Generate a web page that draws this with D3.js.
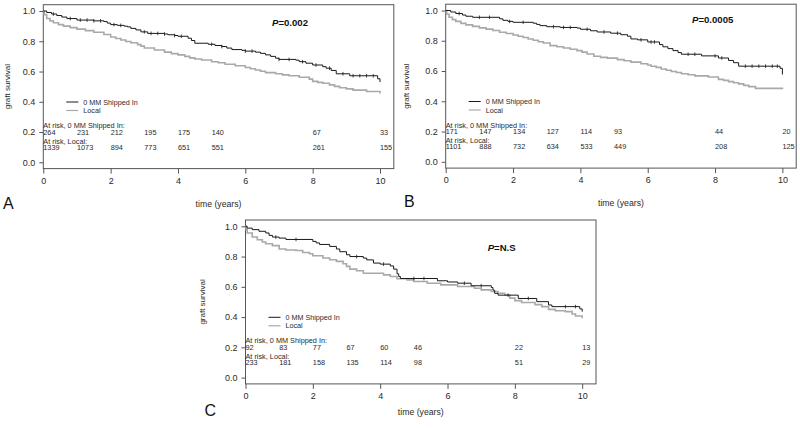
<!DOCTYPE html>
<html>
<head>
<meta charset="utf-8">
<script src="https://cdn.jsdelivr.net/npm/d3@7"></script>
<style>
  html, body { margin: 0; padding: 0; background: #fff; }
  svg { display: block; font-family: "Liberation Sans", Arial, Helvetica, sans-serif; }
</style>
</head>
<body>
<svg id="chart" width="800" height="428"></svg>
<script>
// ---------------- DATA ----------------
const xTicks = [0, 2, 4, 6, 8, 10];
const yTicks = [0, 0.2, 0.4, 0.6, 0.8, 1.0];
const riskTimes = [0, 1, 2, 3, 4, 5, 8, 10];
const seriesNames = ["0 MM Shipped In", "Local"];
const panelLetters = ["A", "B", "C"];
const pValues = ["=0.002", "=0.0005", "=N.S"];

// Kaplan-Meier steps [time, survival]
const aShipped = [[0,1],[0.1,0.99],[0.25,0.98],[0.4,0.97],[0.55,0.96],[0.7,0.95],[1.0,0.94],[1.5,0.935],[1.8,0.93],[1.9,0.92],[2.0,0.91],[2.2,0.905],[2.4,0.9],[2.5,0.895],[2.6,0.885],[2.75,0.875],[2.9,0.862],[3.1,0.852],[3.6,0.848],[3.7,0.843],[3.9,0.838],[4.0,0.833],[4.3,0.82],[4.4,0.805],[4.5,0.787],[4.9,0.78],[5.1,0.772],[5.3,0.765],[5.45,0.755],[5.6,0.745],[5.9,0.74],[6.0,0.735],[6.3,0.728],[6.45,0.72],[6.6,0.71],[6.75,0.7],[6.9,0.688],[7.0,0.68],[7.5,0.675],[7.6,0.665],[7.8,0.655],[8.0,0.643],[8.3,0.632],[8.4,0.622],[8.55,0.607],[8.7,0.585],[9.1,0.572],[9.93,0.552],[10,0.53]];
const aLocal = [[0,1],[0.03,0.975],[0.1,0.95],[0.2,0.935],[0.3,0.922],[0.45,0.91],[0.6,0.9],[0.8,0.89],[1.0,0.88],[1.25,0.87],[1.5,0.86],[1.8,0.845],[2.0,0.828],[2.15,0.818],[2.3,0.808],[2.45,0.798],[2.6,0.79],[2.8,0.778],[2.9,0.768],[3.0,0.755],[3.3,0.742],[3.6,0.728],[3.8,0.718],[4.0,0.71],[4.2,0.7],[4.35,0.69],[4.5,0.683],[4.7,0.676],[5.0,0.665],[5.2,0.658],[5.4,0.648],[5.7,0.638],[6.0,0.627],[6.15,0.618],[6.3,0.61],[6.45,0.602],[6.6,0.593],[6.9,0.585],[7.1,0.578],[7.3,0.572],[7.6,0.562],[7.9,0.55],[8.0,0.535],[8.15,0.528],[8.3,0.522],[8.5,0.512],[8.65,0.502],[8.8,0.493],[9.0,0.485],[9.2,0.477],[9.6,0.468],[10,0.455]];
const bShipped = [[0,1],[0.15,0.99],[0.3,0.98],[0.5,0.97],[0.6,0.962],[0.8,0.955],[1.6,0.945],[1.7,0.935],[1.85,0.928],[2.0,0.922],[2.6,0.916],[2.7,0.908],[2.8,0.9],[3.0,0.893],[3.4,0.888],[3.9,0.884],[4.0,0.876],[4.3,0.866],[4.5,0.858],[4.9,0.85],[5.2,0.84],[5.4,0.83],[5.5,0.812],[5.7,0.806],[6.0,0.792],[6.35,0.775],[6.45,0.76],[6.6,0.748],[6.75,0.735],[6.9,0.722],[7.0,0.711],[7.6,0.7],[8.1,0.686],[8.4,0.67],[8.55,0.655],[8.7,0.632],[9.93,0.618],[10,0.577]];
const bLocal = [[0,1],[0.03,0.975],[0.1,0.955],[0.2,0.94],[0.3,0.928],[0.45,0.915],[0.6,0.905],[0.8,0.895],[1.0,0.885],[1.2,0.877],[1.4,0.868],[1.6,0.856],[1.8,0.848],[2.0,0.838],[2.15,0.83],[2.3,0.822],[2.45,0.812],[2.6,0.803],[2.75,0.793],[2.9,0.785],[3.1,0.768],[3.3,0.76],[3.5,0.752],[3.7,0.744],[3.9,0.735],[4.05,0.725],[4.2,0.712],[4.4,0.698],[4.6,0.69],[4.8,0.685],[5.1,0.675],[5.3,0.668],[5.5,0.659],[5.8,0.648],[6.0,0.64],[6.1,0.632],[6.25,0.624],[6.4,0.613],[6.55,0.605],[6.7,0.597],[6.85,0.59],[7.0,0.582],[7.2,0.575],[7.4,0.568],[7.8,0.56],[8.1,0.545],[8.25,0.538],[8.4,0.53],[8.55,0.522],[8.7,0.515],[8.85,0.505],[9.0,0.497],[9.2,0.485],[10,0.48]];
const cShipped = [[0,1],[0.05,0.988],[0.2,0.978],[0.4,0.967],[0.6,0.956],[0.7,0.94],[0.8,0.929],[1.0,0.922],[1.2,0.913],[2.0,0.9],[2.1,0.89],[2.2,0.88],[2.5,0.867],[2.7,0.85],[2.8,0.832],[3.0,0.812],[3.1,0.8],[3.5,0.79],[3.6,0.778],[3.8,0.757],[4.0,0.75],[4.3,0.738],[4.4,0.717],[4.5,0.686],[4.55,0.668],[4.6,0.655],[5.7,0.64],[6.0,0.632],[6.3,0.624],[6.7,0.607],[7.3,0.595],[7.35,0.578],[7.4,0.557],[7.5,0.545],[8.1,0.523],[8.65,0.502],[9.0,0.48],[9.1,0.469],[9.93,0.454],[10,0.436]];
const cLocal = [[0,1],[0.02,0.978],[0.05,0.956],[0.2,0.929],[0.35,0.911],[0.5,0.896],[0.6,0.885],[0.8,0.872],[1.0,0.85],[1.2,0.843],[1.5,0.84],[1.7,0.827],[1.9,0.819],[2.0,0.805],[2.3,0.79],[2.5,0.779],[2.7,0.768],[2.9,0.752],[3.0,0.735],[3.1,0.717],[3.3,0.706],[3.5,0.69],[4.1,0.679],[4.3,0.668],[4.5,0.653],[4.8,0.646],[5.0,0.635],[5.4,0.624],[5.8,0.613],[6.3,0.602],[6.8,0.591],[7.0,0.58],[7.3,0.569],[7.5,0.558],[7.7,0.546],[7.85,0.525],[8.0,0.509],[8.2,0.496],[8.6,0.482],[8.8,0.469],[9.0,0.451],[9.2,0.442],[9.5,0.436],[9.7,0.42],[9.8,0.407],[10,0.392]];

// censoring times on the shipped-in curves
const aCensor = [0.3,0.8,1.1,1.3,1.5,1.7,2.1,2.3,3.0,3.2,3.4,3.6,3.9,4.1,5.0,5.3,6.0,6.2,7.0,7.3,7.7,8.1,8.5,8.9,9.2,9.4,9.6,9.8];
const bCensor = [0.4,1.0,1.3,1.9,2.3,3.2,3.5,3.7,4.2,4.7,5.1,5.8,6.1,6.2,7.2,7.4,8.0,8.2,8.9,9.1,9.3,9.5,9.7,9.85];
const cCensor = [0.9,1.5,3.3,4.1,5.0,5.3,6.5,7.0,7.8,8.4,9.5,9.8];

// numbers at risk
const aRiskShipped = [264, 231, 212, 195, 175, 140, 67, 33];
const aRiskLocal = [1339, 1073, 894, 773, 651, 551, 261, 155];
const bRiskShipped = [171, 147, 134, 127, 114, 93, 44, 20];
const bRiskLocal = [1101, 888, 732, 634, 533, 449, 208, 125];
const cRiskShipped = [92, 83, 77, 67, 60, 46, 22, 13];
const cRiskLocal = [233, 181, 158, 135, 114, 98, 51, 29];

// ---------------- LAYOUT ----------------
const layout = [
  { x0: 43.3, y1: 11, pX: 272, pY: 22, lx: 3, ly: 203.3, xlabY: 204, ylabX: 7.5 },
  { x0: 445.7, y1: 10.5, pX: 692, pY: 19, lx: 404, ly: 201.7, xlabY: 203, ylabX: 406.5 },
  { x0: 245.5, y1: 226.3, pX: 487.7, pY: 246.7, lx: 204.5, ly: 410, xlabY: 411.7, ylabX: 202 }
];
const panelData = [
  { shipped: aShipped, local: aLocal, censor: aCensor, rs: aRiskShipped, rl: aRiskLocal },
  { shipped: bShipped, local: bLocal, censor: bCensor, rs: bRiskShipped, rl: bRiskLocal },
  { shipped: cShipped, local: cLocal, censor: cCensor, rs: cRiskShipped, rl: cRiskLocal }
];

const svg = d3.select("#chart");
const TEXT = "#2a2a2a", FRAME = "#555";
const PW = 336.7, PH = 151.3;

function stepValue(steps, t) {
  let v = steps[0][1];
  for (const [ti, si] of steps) { if (ti <= t) v = si; else break; }
  return v;
}

layout.forEach((L, i) => {
  const D = panelData[i];
  const x = d3.scaleLinear().domain([0, 10]).range([L.x0, L.x0 + PW]);
  const y = d3.scaleLinear().domain([0, 1]).range([L.y1 + PH, L.y1]);
  const g = svg.append("g");

  const bx0 = x(0), bx1 = x(10) + 13.8, by0 = y(1) - 6.3, by1 = y(0) + 6.3;
  g.append("rect").attr("x", bx0).attr("y", by0).attr("width", bx1 - bx0).attr("height", by1 - by0)
    .attr("fill", "none").attr("stroke", FRAME).attr("stroke-width", 1);

  // x axis
  const xa = g.append("g").attr("transform", `translate(0,${by1})`)
    .call(d3.axisBottom(x).tickValues(xTicks).tickFormat(d3.format("d")).tickSize(5).tickPadding(4));
  xa.select(".domain").remove();
  xa.selectAll("line").attr("stroke", FRAME);
  xa.selectAll("text").attr("fill", TEXT).attr("font-size", 9).attr("font-family", null);

  // y axis
  const ya = g.append("g").attr("transform", `translate(${bx0},0)`)
    .call(d3.axisLeft(y).tickValues(yTicks).tickFormat(d3.format(".1f")).tickSize(4).tickPadding(4));
  ya.select(".domain").remove();
  ya.selectAll("line").attr("stroke", FRAME);
  ya.selectAll("text").attr("fill", TEXT).attr("font-size", 9).attr("font-family", null);

  // curves
  const line = d3.line().x(d => x(d[0])).y(d => y(d[1])).curve(d3.curveStepAfter);
  g.append("path").datum(D.local).attr("d", line).attr("fill", "none")
    .attr("stroke", "#a9a9a9").attr("stroke-width", 1.6);
  g.append("path").datum(D.shipped).attr("d", line).attr("fill", "none")
    .attr("stroke", "#1a1a1a").attr("stroke-width", 1);
  g.selectAll(".cens").data(D.censor).enter().append("line")
    .attr("x1", t => x(t)).attr("x2", t => x(t))
    .attr("y1", t => y(stepValue(D.shipped, t)) - 1.8)
    .attr("y2", t => y(stepValue(D.shipped, t)) + 1.8)
    .attr("stroke", "#1a1a1a").attr("stroke-width", 0.8);

  // P value
  const pt = g.append("text").attr("x", L.pX).attr("y", L.pY).attr("dominant-baseline", "central")
    .attr("font-size", 9.6).attr("font-weight", "bold").attr("fill", "#111");
  pt.append("tspan").attr("font-style", "italic").text("P");
  pt.append("tspan").text(pValues[i]);

  // legend
  const lg = [{ c: "#1a1a1a", w: 1, t: seriesNames[0], dy: 91 }, { c: "#a9a9a9", w: 1.2, t: seriesNames[1], dy: 99.5 }];
  lg.forEach(e => {
    g.append("line").attr("x1", L.x0 + 23).attr("x2", L.x0 + 35)
      .attr("y1", L.y1 + e.dy).attr("y2", L.y1 + e.dy).attr("stroke", e.c).attr("stroke-width", e.w);
    g.append("text").attr("x", L.x0 + 40).attr("y", L.y1 + e.dy).attr("dominant-baseline", "central")
      .attr("font-size", 7.2).attr("fill", TEXT).text(e.t);
  });

  // at risk
  const fs = 7.3;
  g.append("text").attr("x", x(0)).attr("y", L.y1 + 114.5).attr("dominant-baseline", "central")
    .attr("font-size", fs).attr("fill", TEXT).text("At risk, " + seriesNames[0] + ":");
  g.append("text").attr("x", x(0)).attr("y", L.y1 + 130).attr("dominant-baseline", "central")
    .attr("font-size", fs).attr("fill", TEXT).text("At risk, " + seriesNames[1] + ":");
  g.selectAll(".rs").data(D.rs).enter().append("text")
    .attr("x", (d, j) => x(riskTimes[j])).attr("y", L.y1 + 121).attr("dominant-baseline", "central")
    .attr("font-size", fs).attr("fill", TEXT).text(d => d);
  g.selectAll(".rl").data(D.rl).enter().append("text")
    .attr("x", (d, j) => x(riskTimes[j])).attr("y", L.y1 + 136).attr("dominant-baseline", "central")
    .attr("font-size", fs).attr("fill", TEXT).text(d => d);

  // axis labels
  g.append("text").attr("x", (bx0 + bx1) / 2).attr("y", L.xlabY).attr("text-anchor", "middle")
    .attr("dominant-baseline", "central").attr("font-size", 8.7).attr("fill", TEXT).text("time (years)");
  g.append("text").attr("transform", `translate(${L.ylabX},${(by0 + by1) / 2}) rotate(-90)`)
    .attr("text-anchor", "middle").attr("dominant-baseline", "central")
    .attr("font-size", 8).attr("fill", TEXT).text("graft survival");

  // panel letter
  g.append("text").attr("x", L.lx).attr("y", L.ly).attr("dominant-baseline", "central")
    .attr("font-size", 16).attr("fill", "#111").text(panelLetters[i]);
});
</script>
</body>
</html>
